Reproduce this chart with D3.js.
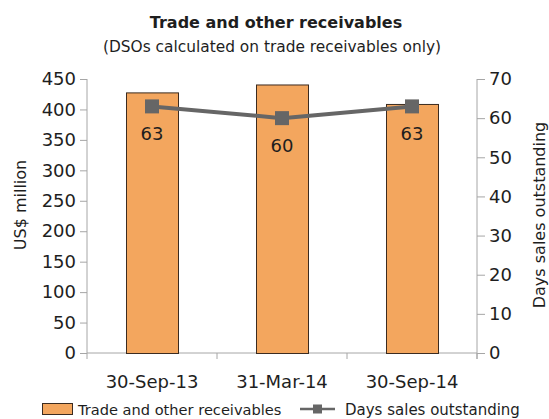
<!DOCTYPE html>
<meta charset="utf-8">
<style type="text/css">
    body{
      margin: 0;
      background: #fff;
    }
    text {
      font-family: "DejaVu Sans", sans-serif;
      fill: #1e1e1e;
    }
    .axis path, .axis line {
      stroke: #a6a6a6;
    }
</style>
<body>
<script src="https://cdn.jsdelivr.net/npm/d3@7/dist/d3.min.js"></script>
<script>

//chart data
var categories  = ["30-Sep-13", "31-Mar-14", "30-Sep-14"];
var receivables = [428, 441, 409];
var dso         = [63, 60, 63];
var leftTicks   = [0, 50, 100, 150, 200, 250, 300, 350, 400, 450];
var rightTicks  = [0, 10, 20, 30, 40, 50, 60, 70];

var barColor  = "#f3a65e",
    lineColor = "#666666";

//plot area
var margin = {top: 79, right: 72, bottom: 66, left: 87},
    width  = 549 - margin.left - margin.right,
    height = 419 - margin.top  - margin.bottom;

var svg = d3.select("body")
  .append("svg")
  .attr("width", 549)
  .attr("height", 419);

var chart = svg.append("g")
  .attr("transform", "translate(" + margin.left + "," + margin.top + ")");

//scales
var x = d3.scaleBand()
  .domain(categories)
  .range([0, width])
  .paddingInner(0.6)
  .paddingOuter(0.3);

var yLeft = d3.scaleLinear().domain([0, 450]).range([height, 0]);
var yRight = d3.scaleLinear().domain([0, 70]).range([height, 0]);

//axes
chart.append("g")
  .attr("class", "axis")
  .call(d3.axisLeft(yLeft).tickValues(leftTicks).tickSize(7).tickPadding(4))
  .call(function(g){ g.select(".domain").attr("d", "M0,0V" + height); })
  .selectAll("text").style("font-size", "18px").attr("fill", "#1e1e1e");

chart.append("g")
  .attr("class", "axis")
  .attr("transform", "translate(" + width + ",0)")
  .call(d3.axisRight(yRight).tickValues(rightTicks).tickSize(8).tickPadding(4))
  .call(function(g){ g.select(".domain").attr("d", "M0,0V" + (height + 6)); })
  .selectAll("text").style("font-size", "18px").attr("fill", "#1e1e1e");

//x axis with ticks between the bands
var xAxis = chart.append("g")
  .attr("class", "axis")
  .attr("transform", "translate(0," + height + ")");

xAxis.append("path")
  .attr("d", "M0,0H" + width)
  .attr("stroke", "#a6a6a6");

xAxis.selectAll("line")
  .data(d3.range(categories.length + 1))
  .enter().append("line")
  .attr("x1", function(i){ return i * width / categories.length; })
  .attr("x2", function(i){ return i * width / categories.length; })
  .attr("y1", 0)
  .attr("y2", 6);

xAxis.selectAll("text")
  .data(categories)
  .enter().append("text")
  .attr("x", function(d){ return x(d) + x.bandwidth() / 2; })
  .attr("y", 35)
  .attr("text-anchor", "middle")
  .style("font-size", "18px")
  .text(function(d){ return d; });

//bars
chart.selectAll(".bar")
  .data(receivables)
  .enter().append("rect")
  .attr("class", "bar")
  .attr("x", function(d, i){ return x(categories[i]) + 0.5; })
  .attr("y", function(d){ return yLeft(d) + 0.5; })
  .attr("width", x.bandwidth())
  .attr("height", function(d){ return height - yLeft(d); })
  .attr("fill", barColor)
  .attr("stroke", "#3b2b20")
  .attr("stroke-width", 1);

//DSO line
var line = d3.line()
  .x(function(d, i){ return x(categories[i]) + x.bandwidth() / 2; })
  .y(function(d){ return yRight(d); });

chart.append("path")
  .datum(dso)
  .attr("d", line)
  .attr("fill", "none")
  .attr("stroke", lineColor)
  .attr("stroke-width", 4);

chart.selectAll(".marker")
  .data(dso)
  .enter().append("rect")
  .attr("class", "marker")
  .attr("x", function(d, i){ return x(categories[i]) + x.bandwidth() / 2 - 7; })
  .attr("y", function(d){ return yRight(d) - 7; })
  .attr("width", 14)
  .attr("height", 14)
  .attr("fill", lineColor);

chart.selectAll(".dsolabel")
  .data(dso)
  .enter().append("text")
  .attr("class", "dsolabel")
  .attr("x", function(d, i){ return x(categories[i]) + x.bandwidth() / 2; })
  .attr("y", function(d){ return yRight(d) + 34; })
  .attr("text-anchor", "middle")
  .style("font-size", "18px")
  .text(function(d){ return d; });

//titles
svg.append("text")
  .attr("x", 276).attr("y", 28)
  .attr("text-anchor", "middle")
  .style("font-size", "16px")
  .style("font-weight", "bold")
  .text("Trade and other receivables");

svg.append("text")
  .attr("x", 272).attr("y", 52)
  .attr("text-anchor", "middle")
  .style("font-size", "15.4px")
  .text("(DSOs calculated on trade receivables only)");

svg.append("text")
  .attr("transform", "translate(26,205) rotate(-90)")
  .attr("text-anchor", "middle")
  .style("font-size", "16px")
  .text("US$ million");

svg.append("text")
  .attr("transform", "translate(545,215) rotate(-90)")
  .attr("text-anchor", "middle")
  .style("font-size", "16px")
  .text("Days sales outstanding");

//legend
var legend = svg.append("g").attr("transform", "translate(0,409)");

legend.append("rect")
  .attr("x", 42.5).attr("y", -5.5)
  .attr("width", 30).attr("height", 11)
  .attr("fill", barColor)
  .attr("stroke", "#3b2b20");

legend.append("text")
  .attr("x", 78).attr("y", 5.5)
  .style("font-size", "14.6px")
  .text("Trade and other receivables");

legend.append("line")
  .attr("x1", 300).attr("x2", 335)
  .attr("y1", 0).attr("y2", 0)
  .attr("stroke", lineColor)
  .attr("stroke-width", 2.5);

legend.append("rect")
  .attr("x", 313).attr("y", -4.5)
  .attr("width", 9).attr("height", 9)
  .attr("fill", lineColor);

legend.append("text")
  .attr("x", 345).attr("y", 5.5)
  .style("font-size", "15px")
  .text("Days sales outstanding");

</script>
</body>
